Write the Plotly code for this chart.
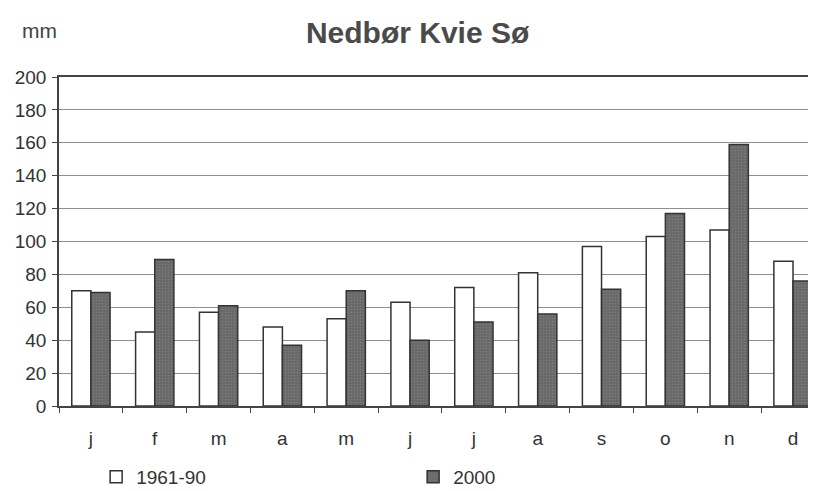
import plotly.graph_objects as go

months = ["j", "f", "m", "a", "m", "j", "j", "a", "s", "o", "n", "d"]
normal_1961_90 = [70, 45, 57, 48, 53, 63, 72, 81, 97, 103, 107, 88]
year_2000 = [69, 89, 61, 37, 70, 40, 51, 56, 71, 117, 159, 76]
y_ticks = [0, 20, 40, 60, 80, 100, 120, 140, 160, 180, 200]

x = list(range(len(months)))

fig = go.Figure()
fig.add_trace(go.Bar(
    x=x, y=normal_1961_90, name="1961-90",
    marker=dict(color="white", line=dict(color="#333333", width=1.5)),
))
fig.add_trace(go.Bar(
    x=x, y=year_2000, name="2000",
    marker=dict(color="#6f6f6f", line=dict(color="#333333", width=1.5),
                pattern=dict(shape=".", fgcolor="#8c8c8c", bgcolor="#666666",
                             size=3, solidity=0.4)),
))

font_main = "Liberation Sans, Arial, sans-serif"

fig.update_layout(
    width=816, height=491,
    margin=dict(l=51, r=8, t=69, b=93),
    paper_bgcolor="white", plot_bgcolor="white",
    barmode="group", bargap=0.4, bargroupgap=0,
    font=dict(family=font_main, size=19, color="#333333"),
    title=dict(text="<b>Nedbør Kvie Sø</b>", x=0.502, xanchor="center",
               y=0.951, yanchor="middle", xref="container", yref="container",
               font=dict(family=font_main, size=30, color="#4a4a4a")),
    showlegend=True,
    legend=dict(orientation="h", xref="container", yref="container",
                x=0.108, xanchor="left", y=0.045, yanchor="middle",
                entrywidth=272, entrywidthmode="pixels",
                itemwidth=30, font=dict(size=19, color="#333333"),
                bgcolor="rgba(0,0,0,0)", traceorder="normal"),
    annotations=[dict(text="mm", xref="paper", yref="paper",
                      x=-0.0515, xanchor="left", y=1.14, yanchor="middle",
                      showarrow=False,
                      font=dict(family=font_main, size=21, color="#444444"))],
)

fig.update_xaxes(
    range=[-0.5, 11.36],
    tickmode="array", tickvals=x, ticktext=months,
    ticks="", ticklabelstandoff=14,
    showgrid=False, zeroline=False,
    showline=True, linecolor="#444444", linewidth=1.5, mirror=True,
    minor=dict(tick0=-0.5, dtick=1, ticks="outside", ticklen=5,
               tickcolor="#444444", showgrid=False),
    tickfont=dict(size=19, color="#333333"),
)
fig.update_yaxes(
    range=[0, 200],
    tickmode="array", tickvals=y_ticks,
    ticks="outside", ticklen=5, tickcolor="#444444",
    showgrid=True, gridcolor="#8e8e8e", gridwidth=1,
    zeroline=False,
    showline=True, linecolor="#444444", linewidth=1.5,
    ticklabelstandoff=2,
    tickfont=dict(size=19, color="#333333"),
)

fig.write_html("out.html")
